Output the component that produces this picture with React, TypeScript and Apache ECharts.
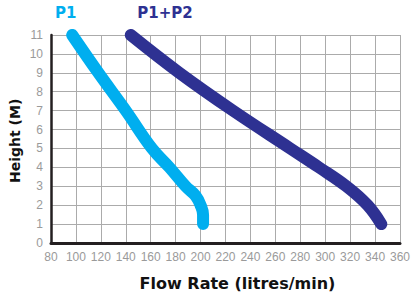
import React, { useEffect, useRef } from "react";
import * as echarts from "echarts";

const xTicksMin = 80;
const xTicksMax = 360;
const xTickStep = 20;
const yTicksMin = 0;
const yTicksMax = 11;
const yTickStep = 1;

const p1Flow = [97, 118, 140, 161, 175, 188, 196, 200, 202, 202];
const p1Height = [11, 9, 7, 5, 4, 3, 2.5, 2, 1.5, 1];

const p12Flow = [144, 183, 226, 272, 295, 317, 334, 345];
const p12Height = [11, 9, 7, 5, 4, 3, 2, 1];

const seriesNames = ["P1", "P1+P2"];
const seriesColors = ["#00AEEF", "#2E3192"];
const xAxisTitle = "Flow Rate (litres/min)";
const yAxisTitle = "Height (M)";

export default function App() {
  const ref = useRef<HTMLDivElement>(null);
  useEffect(() => {
    if (!ref.current) return;
    const chart = echarts.init(ref.current, undefined, { renderer: "svg" });
    const zip = (xs: number[], ys: number[]) => xs.map((x, i) => [x, ys[i]]);
    const lineSeries = (name: string, data: number[][], color: string) => ({
      name,
      type: "line",
      data,
      smooth: 0.4,
      symbol: "none",
      lineStyle: { color, width: 12, cap: "round", join: "round" },
      z: 5,
    });
    chart.setOption({
      animation: false,
      grid: { left: 51, right: 4, top: 35, bottom: 51, containLabel: false },
      xAxis: {
        type: "value",
        min: xTicksMin,
        max: xTicksMax,
        interval: xTickStep,
        axisLine: { show: true, onZero: false, lineStyle: { color: "#231f20", width: 3 } },
        axisTick: { show: false },
        axisLabel: {
          color: "#9a9a9a",
          fontSize: 12,
          fontFamily: "Liberation Sans, Arial, sans-serif",
          margin: 8,
        },
        splitLine: { show: true, lineStyle: { color: "#ababab", width: 1 } },
      },
      yAxis: {
        type: "value",
        min: yTicksMin,
        max: yTicksMax,
        interval: yTickStep,
        axisLine: { show: true, onZero: false, lineStyle: { color: "#231f20", width: 2.5 } },
        axisTick: { show: false },
        axisLabel: {
          color: "#9a9a9a",
          fontSize: 12,
          fontFamily: "Liberation Sans, Arial, sans-serif",
          margin: 8,
        },
        splitLine: { show: true, lineStyle: { color: "#ababab", width: 1 } },
      },
      graphic: [
        {
          type: "text",
          x: 65.8,
          y: 12.5,
          style: {
            text: seriesNames[0],
            fill: seriesColors[0],
            fontSize: 15,
            fontWeight: "bold",
            fontFamily: "DejaVu Sans",
            textAlign: "center",
            textVerticalAlign: "middle",
          },
        },
        {
          type: "text",
          x: 165,
          y: 12.5,
          style: {
            text: seriesNames[1],
            fill: seriesColors[1],
            fontSize: 15,
            fontWeight: "bold",
            fontFamily: "DejaVu Sans",
            textAlign: "center",
            textVerticalAlign: "middle",
          },
        },
        {
          type: "text",
          x: 237.5,
          y: 283.3,
          style: {
            text: xAxisTitle,
            fill: "#111",
            fontSize: 16,
            fontWeight: "bold",
            fontFamily: "DejaVu Sans",
            textAlign: "center",
            textVerticalAlign: "middle",
          },
        },
        {
          type: "text",
          x: 14.7,
          y: 140.8,
          rotation: Math.PI / 2,
          style: {
            text: yAxisTitle,
            fill: "#111",
            fontSize: 14,
            fontWeight: "bold",
            fontFamily: "DejaVu Sans",
            textAlign: "center",
            textVerticalAlign: "middle",
          },
        },
      ],
      series: [
        lineSeries(seriesNames[0], zip(p1Flow, p1Height), seriesColors[0]),
        lineSeries(seriesNames[1], zip(p12Flow, p12Height), seriesColors[1]),
      ],
    });
    return () => chart.dispose();
  }, []);
  return (
    <div
      ref={ref}
      style={{ position: "fixed", left: 0, top: 0, width: 413, height: 294, background: "#fff" }}
    />
  );
}
